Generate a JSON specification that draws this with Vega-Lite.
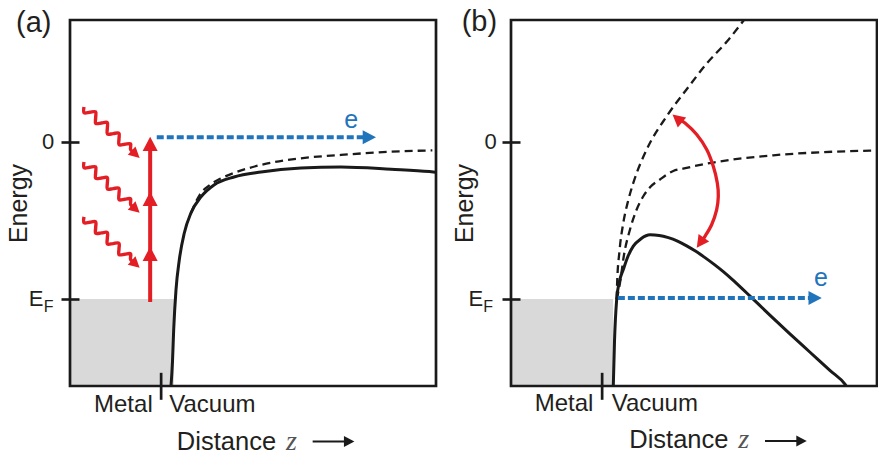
{
"$schema": "https://vega.github.io/schema/vega-lite/v6.json",
"background": "white",
"padding": {"left": 6, "top": 8, "right": 0, "bottom": 0},
"spacing": 10,
"config": {"view": {"stroke": null}, "font": "Liberation Sans"},
"datasets": {
"frame": [{"x": 0, "x2": 10, "y": -1.555, "y2": 0.777}],
"metal": [{"p": "a", "x": 0, "x2": 2.84, "y": -1.555, "y2": -1}, {"p": "b", "x": 0, "x2": 2.79, "y": -1.555, "y2": -1}],
"curves": [
{"p":"a","c":"solid","i":0,"x":2.760,"y":-1.555},{"p":"a","c":"solid","i":1,"x":2.800,"y":-1.40},{"p":"a","c":"solid","i":2,"x":2.833,"y":-1.197},{"p":"a","c":"solid","i":3,"x":2.896,"y":-0.943},{"p":"a","c":"solid","i":4,"x":2.986,"y":-0.752},{"p":"a","c":"solid","i":5,"x":3.123,"y":-0.580},{"p":"a","c":"solid","i":6,"x":3.306,"y":-0.452},{"p":"a","c":"solid","i":7,"x":3.579,"y":-0.350},{"p":"a","c":"solid","i":8,"x":3.934,"y":-0.274},{"p":"a","c":"solid","i":9,"x":4.481,"y":-0.223},{"p":"a","c":"solid","i":10,"x":5.219,"y":-0.191},{"p":"a","c":"solid","i":11,"x":6.311,"y":-0.166},{"p":"a","c":"solid","i":12,"x":7.404,"y":-0.160},{"p":"a","c":"solid","i":13,"x":8.770,"y":-0.174},{"p":"a","c":"solid","i":14,"x":9.82,"y":-0.189},{"p":"a","c":"solid","i":15,"x":9.98,"y":-0.193},
{"p":"a","c":"dashed","i":0,"x":3.306,"y":-0.452},{"p":"a","c":"dashed","i":1,"x":3.55,"y":-0.335},{"p":"a","c":"dashed","i":2,"x":3.80,"y":-0.278},{"p":"a","c":"dashed","i":3,"x":4.10,"y":-0.235},{"p":"a","c":"dashed","i":4,"x":4.50,"y":-0.196},{"p":"a","c":"dashed","i":5,"x":5.219,"y":-0.146},{"p":"a","c":"dashed","i":6,"x":6.311,"y":-0.104},{"p":"a","c":"dashed","i":7,"x":7.404,"y":-0.083},{"p":"a","c":"dashed","i":8,"x":8.770,"y":-0.062},{"p":"a","c":"dashed","i":9,"x":9.90,"y":-0.054},
{"p":"b","c":"solid","i":0,"x":2.795,"y":-1.555},{"p":"b","c":"solid","i":1,"x":2.828,"y":-1.269},{"p":"b","c":"solid","i":2,"x":2.888,"y":-1.002},{"p":"b","c":"solid","i":3,"x":2.964,"y":-0.887},{"p":"b","c":"solid","i":4,"x":3.068,"y":-0.813},{"p":"b","c":"solid","i":5,"x":3.197,"y":-0.728},{"p":"b","c":"solid","i":6,"x":3.342,"y":-0.664},{"p":"b","c":"solid","i":7,"x":3.552,"y":-0.617},{"p":"b","c":"solid","i":8,"x":3.80,"y":-0.592},{"p":"b","c":"solid","i":9,"x":4.05,"y":-0.596},{"p":"b","c":"solid","i":10,"x":4.30,"y":-0.610},{"p":"b","c":"solid","i":11,"x":4.55,"y":-0.632},{"p":"b","c":"solid","i":12,"x":4.80,"y":-0.662},{"p":"b","c":"solid","i":13,"x":5.05,"y":-0.697},{"p":"b","c":"solid","i":14,"x":5.30,"y":-0.737},{"p":"b","c":"solid","i":15,"x":5.55,"y":-0.780},{"p":"b","c":"solid","i":16,"x":5.80,"y":-0.826},{"p":"b","c":"solid","i":17,"x":6.05,"y":-0.877},{"p":"b","c":"solid","i":18,"x":6.30,"y":-0.931},{"p":"b","c":"solid","i":19,"x":6.53,"y":-0.982},{"p":"b","c":"solid","i":20,"x":7.08,"y":-1.105},{"p":"b","c":"solid","i":21,"x":7.62,"y":-1.223},{"p":"b","c":"solid","i":22,"x":8.17,"y":-1.340},{"p":"b","c":"solid","i":23,"x":8.72,"y":-1.457},{"p":"b","c":"solid","i":24,"x":9.13,"y":-1.545},{"p":"b","c":"solid","i":25,"x":9.16,"y":-1.555},
{"p":"b","c":"dashed","i":0,"x":2.888,"y":-1.002},{"p":"b","c":"dashed","i":1,"x":2.900,"y":-0.898},{"p":"b","c":"dashed","i":2,"x":2.964,"y":-0.696},{"p":"b","c":"dashed","i":3,"x":3.068,"y":-0.516},{"p":"b","c":"dashed","i":4,"x":3.197,"y":-0.378},{"p":"b","c":"dashed","i":5,"x":3.342,"y":-0.261},{"p":"b","c":"dashed","i":6,"x":3.708,"y":-0.048},{"p":"b","c":"dashed","i":7,"x":4.254,"y":0.164},{"p":"b","c":"dashed","i":8,"x":4.801,"y":0.336},{"p":"b","c":"dashed","i":9,"x":5.352,"y":0.501},{"p":"b","c":"dashed","i":10,"x":5.90,"y":0.64},{"p":"b","c":"dashed","i":11,"x":6.366,"y":0.777},
{"p":"b","c":"dashed2","i":0,"x":2.888,"y":-1.002},{"p":"b","c":"dashed2","i":1,"x":2.978,"y":-0.898},{"p":"b","c":"dashed2","i":2,"x":3.087,"y":-0.72},{"p":"b","c":"dashed2","i":3,"x":3.251,"y":-0.558},{"p":"b","c":"dashed2","i":4,"x":3.415,"y":-0.441},{"p":"b","c":"dashed2","i":5,"x":3.615,"y":-0.346},{"p":"b","c":"dashed2","i":6,"x":3.798,"y":-0.289},{"p":"b","c":"dashed2","i":7,"x":4.071,"y":-0.239},{"p":"b","c":"dashed2","i":8,"x":4.434,"y":-0.185},{"p":"b","c":"dashed2","i":9,"x":4.70,"y":-0.170},{"p":"b","c":"dashed2","i":10,"x":5.527,"y":-0.131},{"p":"b","c":"dashed2","i":11,"x":7.167,"y":-0.085},{"p":"b","c":"dashed2","i":12,"x":8.443,"y":-0.066},{"p":"b","c":"dashed2","i":13,"x":9.809,"y":-0.055},{"p":"b","c":"dashed2","i":14,"x":9.95,"y":-0.054}
],
"waves": [
{"g":1,"i":0,"x":0.3825,"y":0.2229},{"g":1,"i":1,"x":0.3847,"y":0.1861},{"g":1,"i":2,"x":0.5418,"y":0.1890},{"g":1,"i":3,"x":0.6989,"y":0.1917},{"g":1,"i":4,"x":0.7011,"y":0.1550},{"g":1,"i":5,"x":0.7033,"y":0.1183},{"g":1,"i":6,"x":0.8604,"y":0.1210},{"g":1,"i":7,"x":1.0175,"y":0.1238},{"g":1,"i":8,"x":1.0197,"y":0.0871},{"g":1,"i":9,"x":1.0219,"y":0.0503},{"g":1,"i":10,"x":1.1790,"y":0.0531},{"g":1,"i":11,"x":1.3361,"y":0.0559},{"g":1,"i":12,"x":1.3383,"y":0.0191},{"g":1,"i":13,"x":1.3404,"y":-0.0176},{"g":1,"i":14,"x":1.4975,"y":-0.0148},{"g":1,"i":15,"x":1.6546,"y":-0.0120},{"g":1,"i":16,"x":1.6568,"y":-0.0488},{"g":1,"i":17,"x":1.7869,"y":-0.0771},
{"g":2,"i":0,"x":0.3825,"y":-0.1274},{"g":2,"i":1,"x":0.3847,"y":-0.1642},{"g":2,"i":2,"x":0.5418,"y":-0.1613},{"g":2,"i":3,"x":0.6989,"y":-0.1586},{"g":2,"i":4,"x":0.7011,"y":-0.1953},{"g":2,"i":5,"x":0.7033,"y":-0.2320},{"g":2,"i":6,"x":0.8604,"y":-0.2293},{"g":2,"i":7,"x":1.0175,"y":-0.2265},{"g":2,"i":8,"x":1.0197,"y":-0.2632},{"g":2,"i":9,"x":1.0219,"y":-0.3000},{"g":2,"i":10,"x":1.1790,"y":-0.2972},{"g":2,"i":11,"x":1.3361,"y":-0.2944},{"g":2,"i":12,"x":1.3383,"y":-0.3312},{"g":2,"i":13,"x":1.3404,"y":-0.3679},{"g":2,"i":14,"x":1.4975,"y":-0.3651},{"g":2,"i":15,"x":1.6546,"y":-0.3623},{"g":2,"i":16,"x":1.6568,"y":-0.3991},{"g":2,"i":17,"x":1.7869,"y":-0.4274},
{"g":3,"i":0,"x":0.3825,"y":-0.4777},{"g":3,"i":1,"x":0.3847,"y":-0.5145},{"g":3,"i":2,"x":0.5418,"y":-0.5116},{"g":3,"i":3,"x":0.6989,"y":-0.5089},{"g":3,"i":4,"x":0.7011,"y":-0.5456},{"g":3,"i":5,"x":0.7033,"y":-0.5823},{"g":3,"i":6,"x":0.8604,"y":-0.5796},{"g":3,"i":7,"x":1.0175,"y":-0.5768},{"g":3,"i":8,"x":1.0197,"y":-0.6135},{"g":3,"i":9,"x":1.0219,"y":-0.6503},{"g":3,"i":10,"x":1.1790,"y":-0.6475},{"g":3,"i":11,"x":1.3361,"y":-0.6447},{"g":3,"i":12,"x":1.3383,"y":-0.6815},{"g":3,"i":13,"x":1.3404,"y":-0.7182},{"g":3,"i":14,"x":1.4975,"y":-0.7154},{"g":3,"i":15,"x":1.6546,"y":-0.7126},{"g":3,"i":16,"x":1.6568,"y":-0.7494},{"g":3,"i":17,"x":1.7869,"y":-0.7777}
],
"swing": [
{"i":0,"x":4.549,"y":0.148},{"i":1,"x":4.754,"y":0.121},{"i":2,"x":5.074,"y":0.047},{"i":3,"x":5.347,"y":-0.048},{"i":4,"x":5.527,"y":-0.155},{"i":5,"x":5.637,"y":-0.261},{"i":6,"x":5.664,"y":-0.346},{"i":7,"x":5.620,"y":-0.431},{"i":8,"x":5.484,"y":-0.526},{"i":9,"x":5.301,"y":-0.601},{"i":10,"x":5.178,"y":-0.641}
],
"rules": [
{"p":"a","k":"e","x":2.37,"x2":8.12,"y":0.03,"y2":0.03},
{"p":"b","k":"e","x":2.92,"x2":8.25,"y":-0.995,"y2":-0.995},
{"p":"a","k":"up","x":2.19,"x2":2.19,"y":-1.02,"y2":-0.02},
{"p":"a","k":"sep","x":2.49,"x2":2.49,"y":-1.471,"y2":-1.643},
{"p":"b","k":"sep","x":2.49,"x2":2.49,"y":-1.471,"y2":-1.643},
{"p":"a","k":"dist","x":6.63,"x2":7.62,"y":-1.909,"y2":-1.909},
{"p":"b","k":"dist","x":6.94,"x2":7.93,"y":-1.906,"y2":-1.906}
],
"heads": [
{"p":"a","k":"e","x":8.169,"y":0.03,"dir":0},
{"p":"b","k":"e","x":8.30,"y":-0.995,"dir":0},
{"p":"a","k":"up","x":2.19,"y":-0.014,"dir":-90},
{"p":"a","k":"up","x":2.19,"y":-0.365,"dir":-90},
{"p":"a","k":"up","x":2.19,"y":-0.715,"dir":-90},
{"p":"a","k":"wave","x":1.787,"y":-0.0771,"dir":42.4},
{"p":"a","k":"wave","x":1.787,"y":-0.4274,"dir":42.4},
{"p":"a","k":"wave","x":1.787,"y":-0.7777,"dir":42.4},
{"p":"b","k":"swing","x":4.549,"y":0.148,"dir":220},
{"p":"b","k":"swing","x":5.178,"y":-0.641,"dir":125.4},
{"p":"a","k":"dist","x":7.62,"y":-1.909,"dir":0},
{"p":"b","k":"dist","x":7.93,"y":-1.906,"dir":0}
],
"labels": [
{"p":"a","s":"tick","x":-0.43,"y":0,"t":"0"},
{"p":"a","s":"tick","x":-0.724,"y":-1,"t":"E"},
{"p":"a","s":"sub","x":-0.719,"y":-1.054,"t":"F"},
{"p":"a","s":"panel","x":-1.475,"y":0.761,"t":"(a)"},
{"p":"a","s":"e","x":7.68,"y":0.14,"t":"e"},
{"p":"a","s":"left","x":2.26,"y":-1.718,"t":"Metal"},
{"p":"a","s":"right","x":2.713,"y":-1.718,"t":"Vacuum"},
{"p":"a","s":"dist","x":2.92,"y":-1.962,"t":"Distance"},
{"p":"a","s":"z","x":5.90,"y":-1.962,"t":"z"},
{"p":"b","s":"tick","x":-0.39,"y":0,"t":"0"},
{"p":"b","s":"tick","x":-0.757,"y":-1,"t":"E"},
{"p":"b","s":"sub","x":-0.757,"y":-1.053,"t":"F"},
{"p":"b","s":"panel","x":-1.347,"y":0.762,"t":"(b)"},
{"p":"b","s":"e","x":8.47,"y":-0.866,"t":"e"},
{"p":"b","s":"left","x":2.25,"y":-1.715,"t":"Metal"},
{"p":"b","s":"right","x":2.75,"y":-1.715,"t":"Vacuum"},
{"p":"b","s":"dist","x":3.23,"y":-1.949,"t":"Distance"},
{"p":"b","s":"z","x":6.21,"y":-1.949,"t":"z"}
]
},
"hconcat": [
{
"width": 366, "height": 366,
"encoding": {
"x": {"field": "x", "type": "quantitative", "scale": {"domain": [0, 10], "nice": false, "zero": false}, "axis": null},
"y": {"field": "y", "type": "quantitative", "scale": {"domain": [-1.555, 0.777], "nice": false, "zero": false},
"axis": {"values": [0, -1], "labels": false, "domain": false, "grid": false, "ticks": true, "tickSize": 18, "tickWidth": 2.6, "tickColor": "#1a1a1a", "offset": -9, "title": "Energy", "titleFont": "Liberation Sans", "titleFontSize": 25, "titleFontWeight": "normal", "titleColor": "#231f20", "titlePadding": 28, "zindex": 1}}
},
"layer": [
{"data": {"name": "metal"}, "transform": [{"filter": "datum.p == 'a'"}], "mark": {"type": "rect", "color": "#d9d9d9"}, "encoding": {"x2": {"field": "x2"}, "y2": {"field": "y2"}}},
{"data": {"name": "frame"}, "mark": {"type": "rect", "fill": "transparent", "stroke": "#1a1a1a", "strokeWidth": 2.7}, "encoding": {"x2": {"field": "x2"}, "y2": {"field": "y2"}}},
{"data": {"name": "curves"}, "transform": [{"filter": "datum.p == 'a' && datum.c == 'solid'"}], "mark": {"type": "line", "interpolate": "monotone", "strokeWidth": 3, "color": "#1a1a1a"}, "encoding": {"order": {"field": "i"}}},
{"data": {"name": "curves"}, "transform": [{"filter": "datum.p == 'a' && datum.c == 'dashed'"}], "mark": {"type": "line", "interpolate": "monotone", "strokeWidth": 2.3, "strokeDash": [8, 5], "color": "#1a1a1a"}, "encoding": {"order": {"field": "i"}}},
{"data": {"name": "waves"}, "mark": {"type": "line", "interpolate": "cardinal", "strokeWidth": 3.4, "color": "#e31e24"}, "encoding": {"order": {"field": "i"}, "detail": {"field": "g"}}},
{"data": {"name": "rules"}, "transform": [{"filter": "datum.p == 'a' && datum.k == 'e'"}], "mark": {"type": "rule", "strokeWidth": 4, "strokeDash": [7, 3], "color": "#1f74bb"}, "encoding": {"x2": {"field": "x2"}, "y2": {"field": "y2"}}},
{"data": {"name": "rules"}, "transform": [{"filter": "datum.p == 'a' && datum.k == 'up'"}], "mark": {"type": "rule", "strokeWidth": 4, "color": "#e31e24"}, "encoding": {"x2": {"field": "x2"}, "y2": {"field": "y2"}}},
{"data": {"name": "rules"}, "transform": [{"filter": "datum.p == 'a' && datum.k == 'sep'"}], "mark": {"type": "rule", "strokeWidth": 2.7, "color": "#1a1a1a"}, "encoding": {"x2": {"field": "x2"}, "y2": {"field": "y2"}}},
{"data": {"name": "rules"}, "transform": [{"filter": "datum.p == 'a' && datum.k == 'dist'"}], "mark": {"type": "rule", "strokeWidth": 2, "color": "#1a1a1a"}, "encoding": {"x2": {"field": "x2"}, "y2": {"field": "y2"}}},
{"data": {"name": "heads"}, "transform": [{"filter": "datum.p == 'a' && datum.k == 'e'"}], "mark": {"type": "point", "shape": "M1,0L-0.9,-1L-0.9,1Z", "filled": true, "size": 196, "color": "#1f74bb", "opacity": 1}, "encoding": {"angle": {"field": "dir", "type": "quantitative", "scale": null}}},
{"data": {"name": "heads"}, "transform": [{"filter": "datum.p == 'a' && datum.k == 'up'"}], "mark": {"type": "point", "shape": "M1,0L-0.9,-1L-0.9,1Z", "filled": true, "size": 225, "color": "#e31e24", "opacity": 1}, "encoding": {"angle": {"field": "dir", "type": "quantitative", "scale": null}}},
{"data": {"name": "heads"}, "transform": [{"filter": "datum.p == 'a' && datum.k == 'wave'"}], "mark": {"type": "point", "shape": "M1,0L-0.9,-1L-0.9,1Z", "filled": true, "size": 130, "color": "#e31e24", "opacity": 1}, "encoding": {"angle": {"field": "dir", "type": "quantitative", "scale": null}}},
{"data": {"name": "heads"}, "transform": [{"filter": "datum.p == 'a' && datum.k == 'dist'"}], "mark": {"type": "point", "shape": "M1,0L-0.9,-1L-0.9,1Z", "filled": true, "size": 121, "color": "#1a1a1a", "opacity": 1}, "encoding": {"angle": {"field": "dir", "type": "quantitative", "scale": null}}},
{"data": {"name": "labels"}, "transform": [{"filter": "datum.p == 'a' && datum.s == 'tick'"}], "mark": {"type": "text", "fontSize": 22, "align": "right", "baseline": "middle", "color": "#231f20"}, "encoding": {"text": {"field": "t"}}},
{"data": {"name": "labels"}, "transform": [{"filter": "datum.p == 'a' && datum.s == 'sub'"}], "mark": {"type": "text", "fontSize": 16, "align": "left", "baseline": "middle", "color": "#231f20"}, "encoding": {"text": {"field": "t"}}},
{"data": {"name": "labels"}, "transform": [{"filter": "datum.p == 'a' && datum.s == 'panel'"}], "mark": {"type": "text", "fontSize": 29, "align": "left", "baseline": "middle", "color": "#231f20"}, "encoding": {"text": {"field": "t"}}},
{"data": {"name": "labels"}, "transform": [{"filter": "datum.p == 'a' && datum.s == 'e'"}], "mark": {"type": "text", "fontSize": 25, "align": "center", "baseline": "middle", "color": "#1f74bb"}, "encoding": {"text": {"field": "t"}}},
{"data": {"name": "labels"}, "transform": [{"filter": "datum.p == 'a' && datum.s == 'left'"}], "mark": {"type": "text", "fontSize": 24, "align": "right", "baseline": "alphabetic", "color": "#231f20"}, "encoding": {"text": {"field": "t"}}},
{"data": {"name": "labels"}, "transform": [{"filter": "datum.p == 'a' && datum.s == 'right'"}], "mark": {"type": "text", "fontSize": 24, "align": "left", "baseline": "alphabetic", "color": "#231f20"}, "encoding": {"text": {"field": "t"}}},
{"data": {"name": "labels"}, "transform": [{"filter": "datum.p == 'a' && datum.s == 'dist'"}], "mark": {"type": "text", "fontSize": 25.5, "align": "left", "baseline": "alphabetic", "color": "#231f20"}, "encoding": {"text": {"field": "t"}}},
{"data": {"name": "labels"}, "transform": [{"filter": "datum.p == 'a' && datum.s == 'z'"}], "mark": {"type": "text", "font": "Liberation Serif", "fontStyle": "italic", "fontSize": 28, "align": "left", "baseline": "alphabetic", "color": "#555555"}, "encoding": {"text": {"field": "t"}}}
]
},
{
"width": 366, "height": 366,
"encoding": {
"x": {"field": "x", "type": "quantitative", "scale": {"domain": [0, 10], "nice": false, "zero": false}, "axis": null},
"y": {"field": "y", "type": "quantitative", "scale": {"domain": [-1.555, 0.777], "nice": false, "zero": false},
"axis": {"values": [0, -1], "labels": false, "domain": false, "grid": false, "ticks": true, "tickSize": 18, "tickWidth": 2.6, "tickColor": "#1a1a1a", "offset": -9, "title": "Energy", "titleFont": "Liberation Sans", "titleFontSize": 25, "titleFontWeight": "normal", "titleColor": "#231f20", "titlePadding": 23, "zindex": 1}}
},
"layer": [
{"data": {"name": "metal"}, "transform": [{"filter": "datum.p == 'b'"}], "mark": {"type": "rect", "color": "#d9d9d9"}, "encoding": {"x2": {"field": "x2"}, "y2": {"field": "y2"}}},
{"data": {"name": "frame"}, "mark": {"type": "rect", "fill": "transparent", "stroke": "#1a1a1a", "strokeWidth": 2.7}, "encoding": {"x2": {"field": "x2"}, "y2": {"field": "y2"}}},
{"data": {"name": "curves"}, "transform": [{"filter": "datum.p == 'b' && datum.c == 'solid'"}], "mark": {"type": "line", "interpolate": "monotone", "strokeWidth": 3, "color": "#1a1a1a"}, "encoding": {"order": {"field": "i"}}},
{"data": {"name": "curves"}, "transform": [{"filter": "datum.p == 'b' && datum.c == 'dashed'"}], "mark": {"type": "line", "interpolate": "monotone", "strokeWidth": 2.3, "strokeDash": [8, 5], "color": "#1a1a1a"}, "encoding": {"order": {"field": "i"}}},
{"data": {"name": "curves"}, "transform": [{"filter": "datum.p == 'b' && datum.c == 'dashed2'"}], "mark": {"type": "line", "interpolate": "monotone", "strokeWidth": 2.3, "strokeDash": [8, 5], "color": "#1a1a1a"}, "encoding": {"order": {"field": "i"}}},
{"data": {"name": "swing"}, "mark": {"type": "line", "interpolate": "cardinal", "strokeWidth": 3.3, "color": "#e31e24"}, "encoding": {"order": {"field": "i"}}},
{"data": {"name": "rules"}, "transform": [{"filter": "datum.p == 'b' && datum.k == 'e'"}], "mark": {"type": "rule", "strokeWidth": 4, "strokeDash": [7, 3], "color": "#1f74bb"}, "encoding": {"x2": {"field": "x2"}, "y2": {"field": "y2"}}},
{"data": {"name": "rules"}, "transform": [{"filter": "datum.p == 'b' && datum.k == 'sep'"}], "mark": {"type": "rule", "strokeWidth": 2.7, "color": "#1a1a1a"}, "encoding": {"x2": {"field": "x2"}, "y2": {"field": "y2"}}},
{"data": {"name": "rules"}, "transform": [{"filter": "datum.p == 'b' && datum.k == 'dist'"}], "mark": {"type": "rule", "strokeWidth": 2, "color": "#1a1a1a"}, "encoding": {"x2": {"field": "x2"}, "y2": {"field": "y2"}}},
{"data": {"name": "heads"}, "transform": [{"filter": "datum.p == 'b' && datum.k == 'e'"}], "mark": {"type": "point", "shape": "M1,0L-0.9,-1L-0.9,1Z", "filled": true, "size": 196, "color": "#1f74bb", "opacity": 1}, "encoding": {"angle": {"field": "dir", "type": "quantitative", "scale": null}}},
{"data": {"name": "heads"}, "transform": [{"filter": "datum.p == 'b' && datum.k == 'swing'"}], "mark": {"type": "point", "shape": "M1,0L-0.9,-1L-0.9,1Z", "filled": true, "size": 169, "color": "#e31e24", "opacity": 1}, "encoding": {"angle": {"field": "dir", "type": "quantitative", "scale": null}}},
{"data": {"name": "heads"}, "transform": [{"filter": "datum.p == 'b' && datum.k == 'dist'"}], "mark": {"type": "point", "shape": "M1,0L-0.9,-1L-0.9,1Z", "filled": true, "size": 121, "color": "#1a1a1a", "opacity": 1}, "encoding": {"angle": {"field": "dir", "type": "quantitative", "scale": null}}},
{"data": {"name": "labels"}, "transform": [{"filter": "datum.p == 'b' && datum.s == 'tick'"}], "mark": {"type": "text", "fontSize": 22, "align": "right", "baseline": "middle", "color": "#231f20"}, "encoding": {"text": {"field": "t"}}},
{"data": {"name": "labels"}, "transform": [{"filter": "datum.p == 'b' && datum.s == 'sub'"}], "mark": {"type": "text", "fontSize": 16, "align": "left", "baseline": "middle", "color": "#231f20"}, "encoding": {"text": {"field": "t"}}},
{"data": {"name": "labels"}, "transform": [{"filter": "datum.p == 'b' && datum.s == 'panel'"}], "mark": {"type": "text", "fontSize": 29, "align": "left", "baseline": "middle", "color": "#231f20"}, "encoding": {"text": {"field": "t"}}},
{"data": {"name": "labels"}, "transform": [{"filter": "datum.p == 'b' && datum.s == 'e'"}], "mark": {"type": "text", "fontSize": 25, "align": "center", "baseline": "middle", "color": "#1f74bb"}, "encoding": {"text": {"field": "t"}}},
{"data": {"name": "labels"}, "transform": [{"filter": "datum.p == 'b' && datum.s == 'left'"}], "mark": {"type": "text", "fontSize": 24, "align": "right", "baseline": "alphabetic", "color": "#231f20"}, "encoding": {"text": {"field": "t"}}},
{"data": {"name": "labels"}, "transform": [{"filter": "datum.p == 'b' && datum.s == 'right'"}], "mark": {"type": "text", "fontSize": 24, "align": "left", "baseline": "alphabetic", "color": "#231f20"}, "encoding": {"text": {"field": "t"}}},
{"data": {"name": "labels"}, "transform": [{"filter": "datum.p == 'b' && datum.s == 'dist'"}], "mark": {"type": "text", "fontSize": 25.5, "align": "left", "baseline": "alphabetic", "color": "#231f20"}, "encoding": {"text": {"field": "t"}}},
{"data": {"name": "labels"}, "transform": [{"filter": "datum.p == 'b' && datum.s == 'z'"}], "mark": {"type": "text", "font": "Liberation Serif", "fontStyle": "italic", "fontSize": 28, "align": "left", "baseline": "alphabetic", "color": "#555555"}, "encoding": {"text": {"field": "t"}}}
]
}
]
}
